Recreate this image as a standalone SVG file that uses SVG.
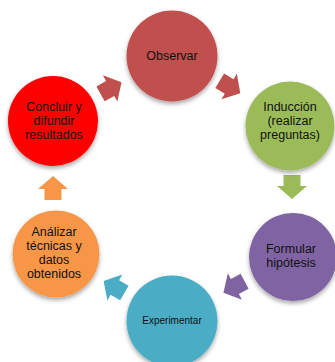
<svg xmlns="http://www.w3.org/2000/svg" width="335" height="362" viewBox="0 0 335 362">
<style>
.t{font-family:"Liberation Sans",Arial,sans-serif;font-size:12.5px;fill:#111;text-anchor:middle}
.s{font-size:10px}
</style>
<defs>
<filter id="sh" x="-20%" y="-20%" width="140%" height="150%">
<feDropShadow dx="0" dy="2.5" stdDeviation="2" flood-color="#000" flood-opacity="0.35"/>
</filter>
<polygon id="arr" points="-12,-8.5 -1,-8.5 -1,-15 12,0 -1,15 -1,8.5 -12,8.5"/>
</defs>
<rect width="335" height="362" fill="#fff"/>
<g id="connectors">
<use href="#arr" fill="#C0504D" transform="translate(111,88) rotate(-29)"/>
<use href="#arr" fill="#C0504D" transform="translate(230,87) rotate(31)"/>
<use href="#arr" fill="#9BBB59" transform="translate(292,187) rotate(90)"/>
<use href="#arr" fill="#8064A2" transform="translate(234,287) rotate(152)"/>
<use href="#arr" fill="#4BACC6" transform="translate(114,287) rotate(210)"/>
<use href="#arr" fill="#F79646" transform="translate(53,188) rotate(-90)"/>
</g>
<g id="observar">
<circle cx="172" cy="56" r="45.5" fill="#C0504D" filter="url(#sh)"/>
<text class="t" x="172" y="60">Observar</text>
</g>
<g id="induccion">
<circle cx="290" cy="126" r="44.5" fill="#9BBB59" filter="url(#sh)"/>
<text class="t" x="290" y="111">Inducción</text>
<text class="t" x="290" y="125">(realizar</text>
<text class="t" x="290" y="139">preguntas)</text>
</g>
<g id="formular">
<circle cx="293" cy="257" r="44" fill="#8064A2" filter="url(#sh)"/>
<text class="t" x="291" y="253">Formular</text>
<text class="t" x="291" y="267">hipótesis</text>
</g>
<g id="experimentar">
<circle cx="172" cy="321" r="45.5" fill="#4BACC6" filter="url(#sh)"/>
<text class="t s" x="172" y="324">Experimentar</text>
</g>
<g id="analizar">
<circle cx="56" cy="254" r="43.5" fill="#F79646" filter="url(#sh)"/>
<text class="t" x="54" y="236">Análizar</text>
<text class="t" x="54" y="250">técnicas y</text>
<text class="t" x="54" y="264">datos</text>
<text class="t" x="54" y="278">obtenidos</text>
</g>
<g id="concluir">
<circle cx="53" cy="121" r="45" fill="#FF0000" filter="url(#sh)"/>
<text class="t" x="54" y="111">Concluir y</text>
<text class="t" x="54" y="125">difundir</text>
<text class="t" x="54" y="139">resultados</text>
</g>
</svg>
